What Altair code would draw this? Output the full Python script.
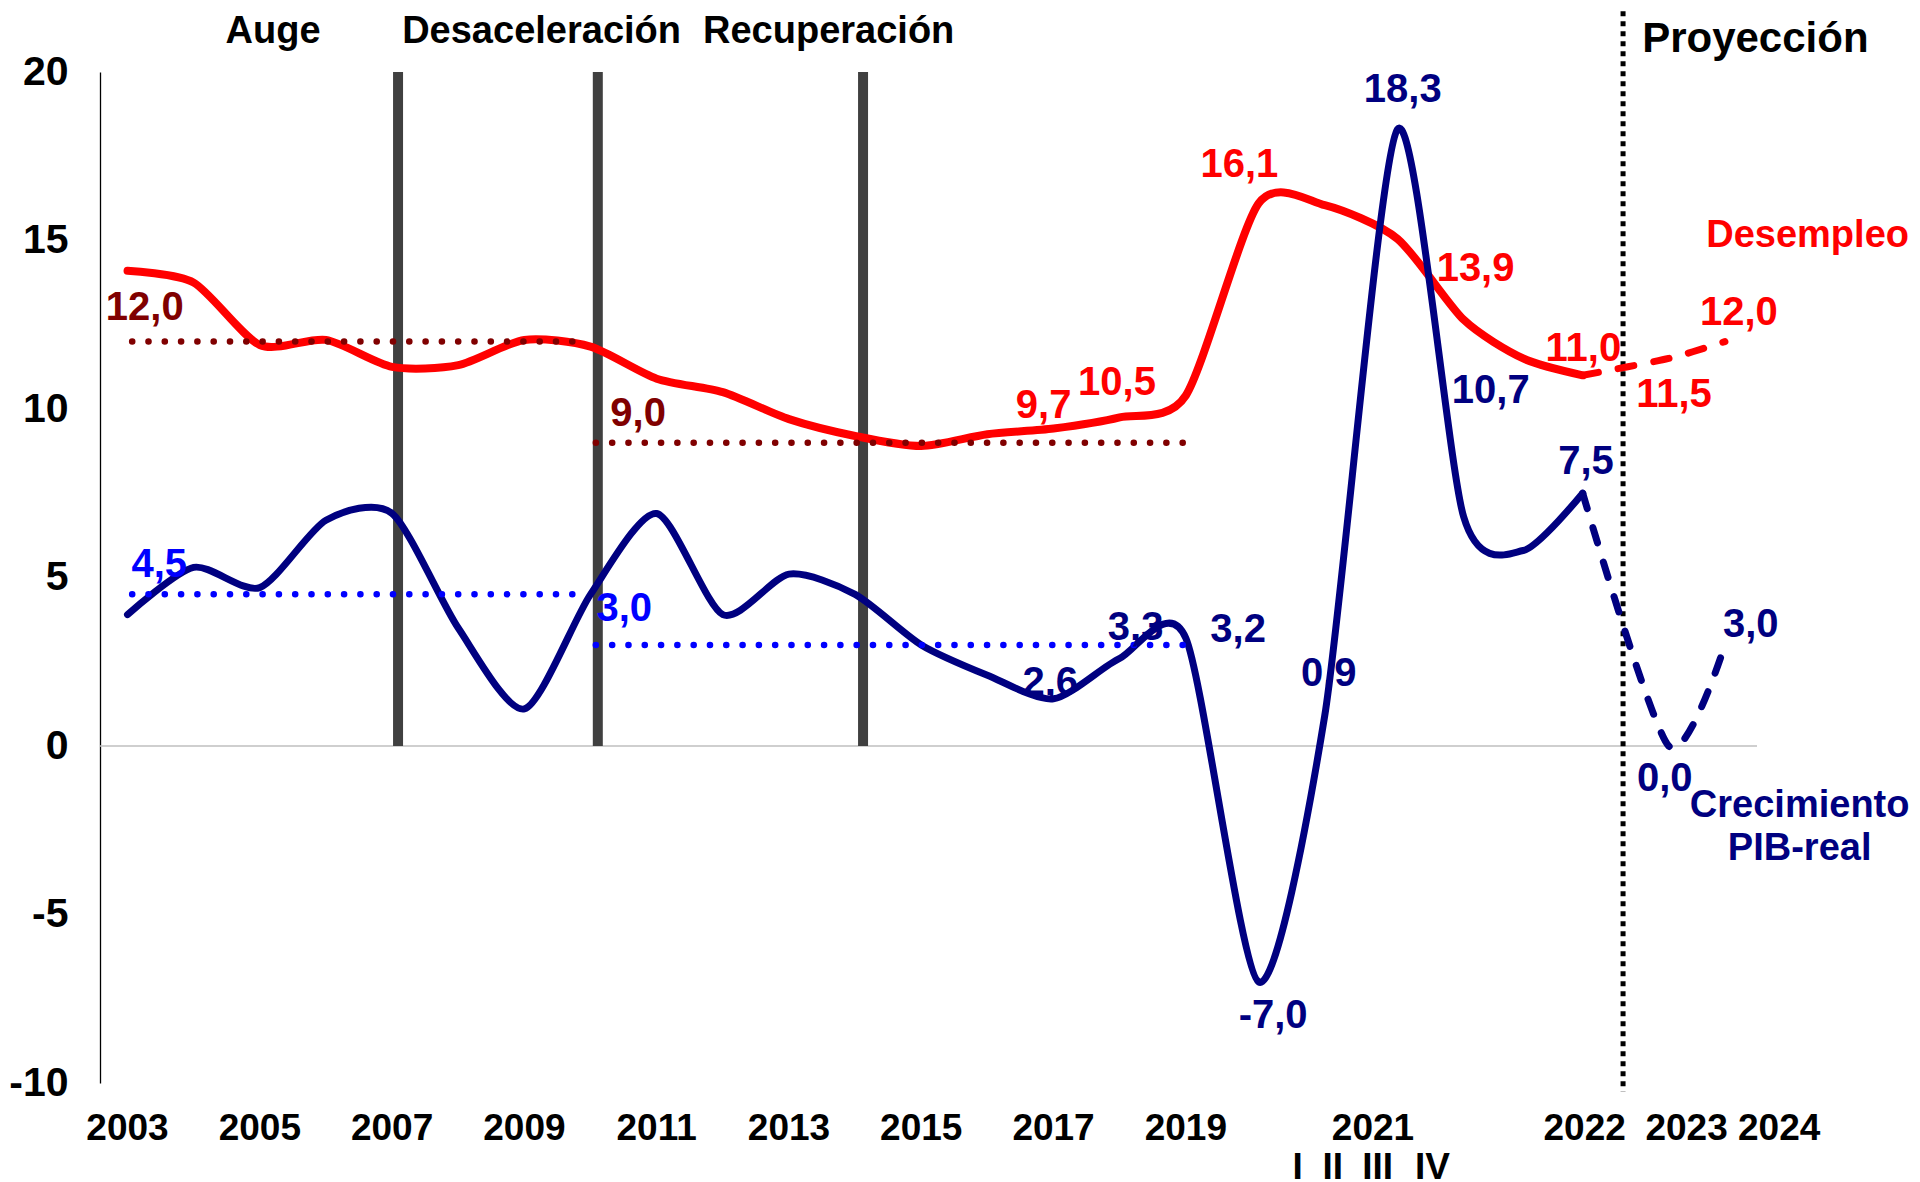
import altair as alt
import pandas as pd

FONT = "Liberation Sans"

# ---------------- data ----------------
periods = [str(y) for y in range(2003, 2020)] + [
    "2020", "2021-I", "2021-II", "2021-III", "2021-IV", "2022", "2023", "2024"]
# position of each period on the category axis (index units)
period_x = list(range(0, 17)) + [17.1, 18.1, 19.2, 20.2, 21.1, 22.0, 23.3, 24.15]

desempleo = [14.1, 13.75, 11.9, 12.05, 11.25, 11.3, 12.05, 11.85, 10.9, 10.5,
             9.7, 9.2, 8.9, 9.25, 9.42, 9.75, 10.4, 16.1, 16.05, 15.05,
             12.65, 11.5, 11.0, 11.5, 12.0]
pib = [3.9, 5.3, 4.7, 6.7, 6.9, 3.5, 1.1, 4.5, 6.9, 3.9,
       5.1, 4.5, 3.0, 2.1, 1.4, 2.6, 3.2, -7.0, 0.9, 18.3,
       6.8, 5.8, 7.5, 0.0, 3.0]
last_obs = periods.index("2022")

phase_names = ["Auge", "Desaceleración", "Recuperación"]
phase_bounds = [4.09, 7.11, 11.12]
projection_start = 22.61

ref_level = [12.0, 9.0, 4.5, 3.0]
ref_from = [0.07, 7.08, 0.07, 7.08]
ref_to = [6.9, 16.1, 6.9, 16.1]
ref_kind = ["u_avg", "u_avg", "g_avg", "g_avg"]

ytick_values = [-10, -5, 0, 5, 10, 15, 20]
xtick_labels = ["2003", "2005", "2007", "2009", "2011", "2013", "2015", "2017",
                "2019", "2021", "2022", "2023", "2024"]
xtick_x = [0, 2, 4, 6, 8, 10, 12, 14, 16, 18.83, 22.03, 23.57, 24.97]
quarter_labels = ["I", "II", "III", "IV"]
quarter_x = [17.69, 18.22, 18.90, 19.73]

# annotations: text, x (index units), y (value units), kind
annotations = [
    ("Auge", 2.2, 21.25, "phase"),
    ("Desaceleración", 6.26, 21.25, "phase"),
    ("Recuperación", 10.6, 21.25, "phase"),
    ("Proyección", 24.61, 21.03, "proj"),
    ("16,1", 16.81, 17.31, "u"),
    ("13,9", 20.38, 14.2, "u"),
    ("11,0", 22.01, 11.85, "u"),
    ("11,5", 23.38, 10.46, "u"),
    ("12,0", 24.36, 12.91, "u"),
    ("9,7", 13.85, 10.15, "u"),
    ("10,5", 14.96, 10.84, "u"),
    ("Desempleo", 25.40, 15.19, "u_name"),
    ("12,0", 0.26, 13.07, "u_avg"),
    ("9,0", 7.72, 9.92, "u_avg"),
    ("4,5", 0.48, 5.42, "g_avg"),
    ("3,0", 7.51, 4.11, "g_avg"),
    ("18,3", 19.28, 19.54, "g"),
    ("10,7", 20.61, 10.59, "g"),
    ("7,5", 22.05, 8.5, "g"),
    ("3,3", 15.24, 3.57, "g"),
    ("3,2", 16.79, 3.5, "g"),
    ("2,6", 13.95, 1.93, "g"),
    ("0,9", 18.16, 2.2, "g"),
    ("-7,0", 17.32, -7.94, "g"),
    ("0,0", 23.24, -0.92, "g"),
    ("3,0", 24.54, 3.66, "g"),
    ("Crecimiento", 25.28, -1.72, "g_name"),
    ("PIB-real", 25.28, -3.0, "g_name"),
]

# ---------------- styles ----------------
COLORS = {"u": "#FF0000", "u_name": "#FF0000", "u_avg": "#800000",
          "g": "#000080", "g_name": "#000080", "g_avg": "#0000FF",
          "phase": "#000000", "proj": "#000000", "tick": "#000000"}
SIZES = {"u": 40, "u_name": 38, "u_avg": 40, "g": 40, "g_name": 38,
         "g_avg": 40, "phase": 38, "proj": 42, "tick": 37}
XTICK_Y = -11.31
QUARTER_Y = -12.46

xs = alt.Scale(domain=[-0.416, 24.635], nice=False, zero=False)
ys = alt.Scale(domain=[-10, 20], nice=False, zero=False)
yaxis = alt.Axis(values=ytick_values, title=None, grid=False, ticks=False,
                 tickSize=0, domain=True, domainColor="#000000", domainWidth=1.3,
                 labelFont=FONT, labelFontSize=41, labelFontWeight="bold",
                 labelColor="#000000", labelPadding=32, labelFlush=False,
                 labelOverlap=False, labelExpr="'' + datum.value")


def X(f="x"):
    return alt.X(f"{f}:Q", scale=xs, axis=None)


def Y(f="y"):
    return alt.Y(f"{f}:Q", scale=ys, axis=yaxis)


# ---------------- tables ----------------
series = pd.DataFrame({"period": periods, "x": period_x,
                       "u": desempleo, "g": pib})
solid = series.iloc[: last_obs + 1]
dashed = series.iloc[last_obs:]

refs = pd.DataFrame({"y": ref_level, "x": ref_from, "x2": ref_to,
                     "color": [COLORS[k] for k in ref_kind]})
phases = pd.DataFrame({"x": phase_bounds})
proj = pd.DataFrame({"x": [projection_start]})
zero = pd.DataFrame({"y": [0]})

rows = [dict(text=t, x=x, y=y, color=COLORS[k], size=SIZES[k])
        for t, x, y, k in annotations]
rows += [dict(text=t, x=x, y=XTICK_Y, color=COLORS["tick"], size=SIZES["tick"])
         for t, x in zip(xtick_labels, xtick_x)]
rows += [dict(text=t, x=x, y=QUARTER_Y, color=COLORS["tick"], size=SIZES["tick"])
         for t, x in zip(quarter_labels, quarter_x)]
texts = pd.DataFrame(rows)

# ---------------- layers ----------------
zero_line = alt.Chart(zero).mark_rule(color="#BFBFBF", strokeWidth=1.5).encode(y=Y())

phase_bars = alt.Chart(phases).mark_rule(color="#404040", strokeWidth=10).encode(
    x=X(), y=alt.datum(20, scale=ys, axis=yaxis), y2=alt.datum(0))

proj_line = alt.Chart(proj).mark_rule(color="#000000", strokeWidth=5,
                                      strokeDash=[5, 5]).encode(
    x=X(), y=alt.datum(21.8, scale=ys, axis=yaxis), y2=alt.datum(-10.25))

line_kw = dict(interpolate="cardinal", tension=0.25, strokeCap="round",
               strokeJoin="round")
u_solid = alt.Chart(solid).mark_line(color="#FF0000", strokeWidth=8, **line_kw).encode(
    x=X(), y=Y("u"))
u_dash = alt.Chart(dashed).mark_line(color="#FF0000", strokeWidth=7,
                                     strokeDash=[16, 20], **line_kw).encode(
    x=X(), y=Y("u"))
g_solid = alt.Chart(solid).mark_line(color="#000080", strokeWidth=7, **line_kw).encode(
    x=X(), y=Y("g"))
g_dash = alt.Chart(dashed).mark_line(color="#000080", strokeWidth=7,
                                     strokeDash=[16, 20], **line_kw).encode(
    x=X(), y=Y("g"))

ref_lines = alt.Chart(refs).mark_rule(strokeWidth=6.5, strokeCap="round",
                                      strokeDash=[0.1, 16.2]).encode(
    x=X(), x2="x2:Q", y=Y(), color=alt.Color("color:N", scale=None))

labels = alt.Chart(texts).mark_text(font=FONT, fontWeight="bold", align="center",
                                    baseline="middle", dy=2).encode(
    x=X(), y=Y(), text="text:N",
    color=alt.Color("color:N", scale=None),
    size=alt.Size("size:Q", scale=None))

chart = alt.layer(zero_line, phase_bars, proj_line, u_solid, u_dash, g_solid,
                  g_dash, ref_lines, labels).properties(
    width=1657, height=1011,
    padding={"left": 92, "top": 64, "right": 155, "bottom": 99},
    autosize=alt.AutoSizeParams(type="none"),
    background="#FFFFFF",
).configure_view(stroke=None)

chart.save("out.html", embed_options={"renderer": "svg", "actions": False})
